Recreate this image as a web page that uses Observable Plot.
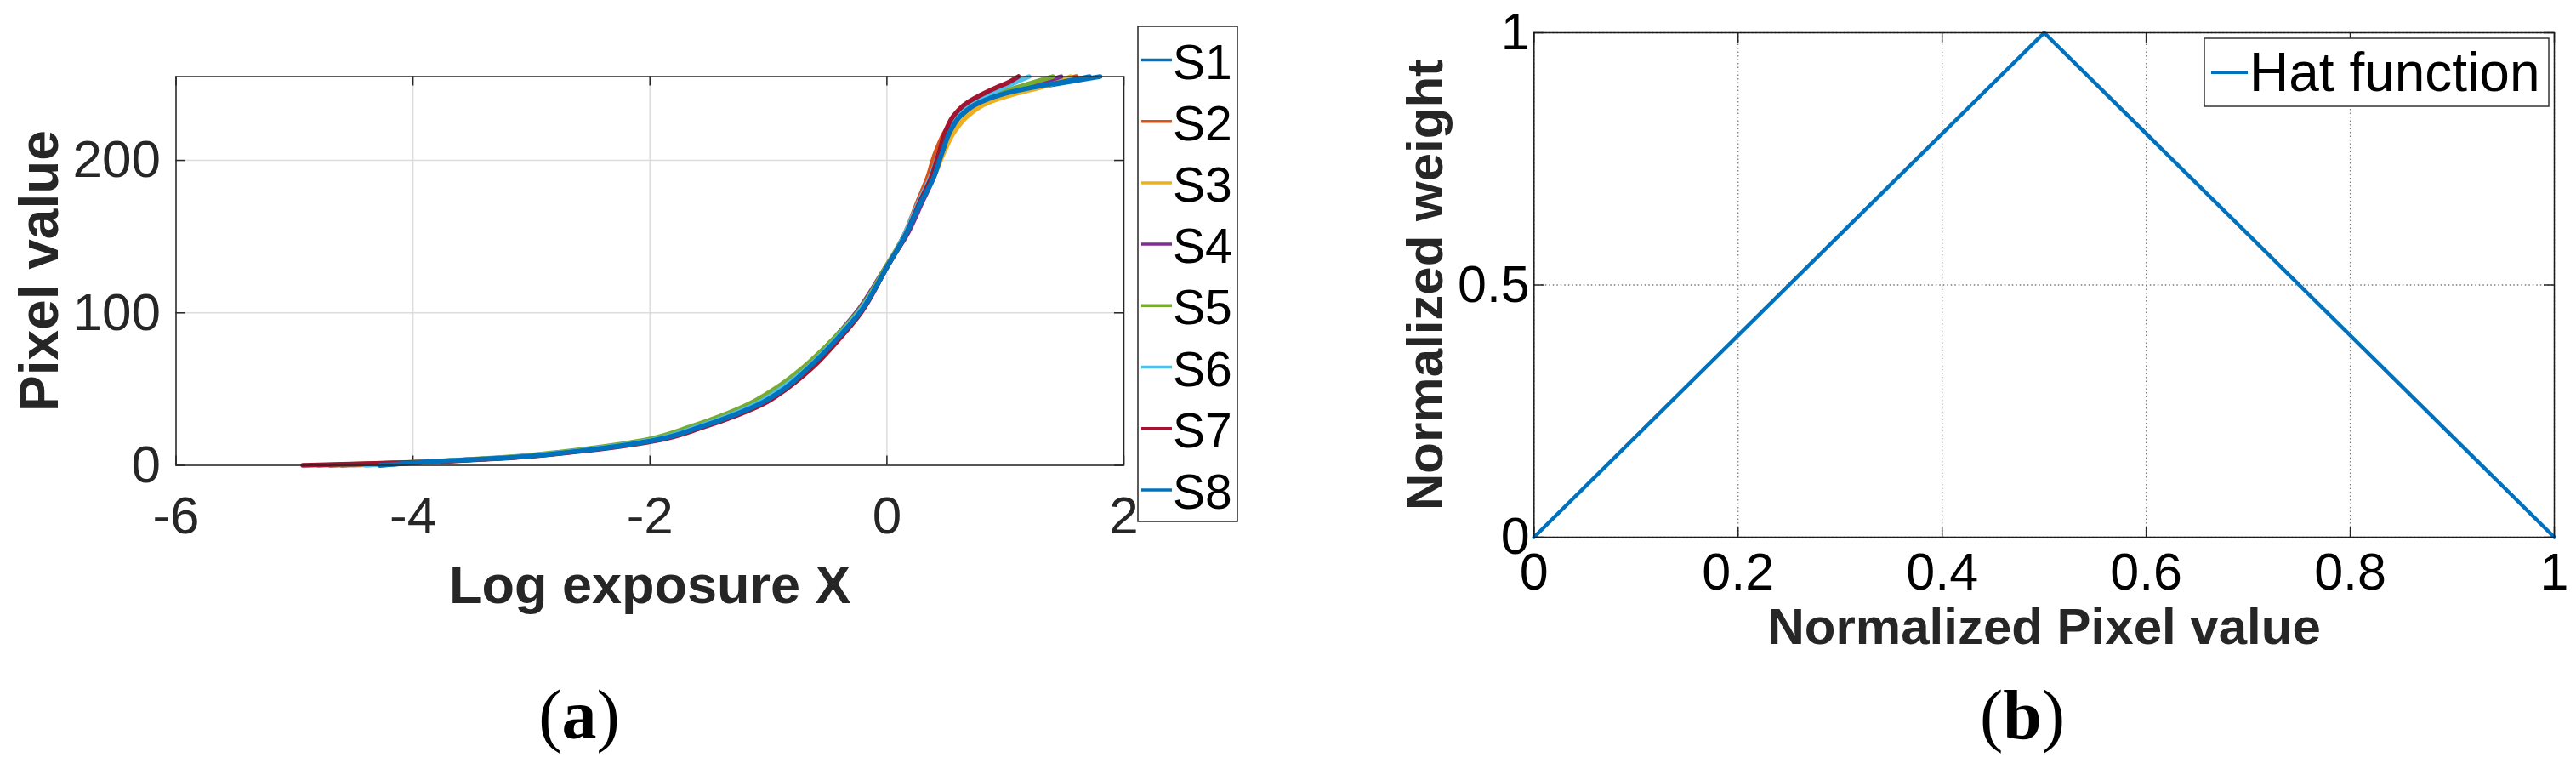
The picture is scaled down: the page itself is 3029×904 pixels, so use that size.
<!DOCTYPE html>
<html><head><meta charset="utf-8">
<script src="https://cdn.jsdelivr.net/npm/d3@7"></script>
<script src="https://cdn.jsdelivr.net/npm/@observablehq/plot@0.6"></script>
<style>
html,body{margin:0;padding:0;background:#fff;}
#fig{position:relative;width:3029px;height:904px;overflow:hidden;background:#fff;}
#fig > svg{position:absolute;}
</style></head><body><div id="fig"></div>
<script>
// ---------- data: panel (a) camera response curves ----------
const seriesNames = ["S1","S2","S3","S4","S5","S6","S7","S8"];
const seriesColors = ["#0072BD","#D95319","#EDB120","#7E2F8E","#77AC30","#4DBEEE","#A2142F","#0072BD"];
const pixelLevels = [0, 2, 5, 9, 16, 25, 33, 40, 50, 64, 83, 100, 130, 150, 173, 188, 205, 220, 229, 238, 244, 248, 251, 255];
const logExpS1 = [-4.28,-3.95,-3.20,-2.65,-2.00,-1.59,-1.30,-1.09,-0.88,-0.66,-0.42,-0.23,0.00,0.15,0.29,0.38,0.455,0.53,0.61,0.77,1.01,1.27,1.49,1.80];
const logExpS2 = [-4.60,-3.96,-3.21,-2.66,-2.01,-1.60,-1.31,-1.10,-0.89,-0.67,-0.43,-0.24,0.00,0.14,0.26,0.34,0.41,0.50,0.59,0.78,1.02,1.24,1.40,1.60];
const logExpS3 = [-4.50,-3.96,-3.20,-2.65,-2.00,-1.60,-1.30,-1.09,-0.88,-0.67,-0.43,-0.24,0.00,0.14,0.28,0.39,0.48,0.58,0.68,0.86,1.10,1.30,1.43,1.55];
const logExpS4 = [-4.70,-3.99,-3.23,-2.68,-2.03,-1.62,-1.33,-1.12,-0.91,-0.69,-0.45,-0.26,-0.01,0.16,0.30,0.39,0.465,0.54,0.62,0.78,0.98,1.15,1.30,1.47];
const logExpS5 = [-4.80,-4.03,-3.28,-2.73,-2.08,-1.67,-1.38,-1.17,-0.95,-0.71,-0.45,-0.25,-0.01,0.14,0.28,0.37,0.445,0.53,0.60,0.75,0.94,1.10,1.23,1.40];
const logExpS6 = [-4.40,-3.97,-3.22,-2.67,-2.02,-1.61,-1.32,-1.11,-0.90,-0.67,-0.43,-0.24,0.00,0.14,0.27,0.36,0.44,0.52,0.59,0.73,0.88,0.99,1.08,1.20];
const logExpS7 = [-4.93,-3.98,-3.16,-2.61,-1.96,-1.55,-1.26,-1.05,-0.85,-0.63,-0.40,-0.22,0.00,0.15,0.28,0.37,0.44,0.50,0.56,0.68,0.82,0.93,1.02,1.11];
const logExpS8 = [-4.28,-3.94,-3.19,-2.64,-1.99,-1.58,-1.29,-1.08,-0.87,-0.66,-0.42,-0.23,0.00,0.15,0.29,0.39,0.465,0.54,0.62,0.78,1.00,1.24,1.45,1.71];
const xTicksA = [-6, -4, -2, 0, 2];
const yTicksA = [0, 100, 200];

// ---------- data: panel (b) hat weighting function ----------
const hatPixel = [0, 0.5, 1];
const hatWeight = [0, 1, 0];
const xTicksB = [0, 0.2, 0.4, 0.6, 0.8, 1];
const yTicksB = [0, 0.5, 1];

const logExpAll = [logExpS1, logExpS2, logExpS3, logExpS4, logExpS5, logExpS6, logExpS7, logExpS8];
const rowsA = [];
seriesNames.forEach((s, i) => pixelLevels.forEach((p, j) => rowsA.push({series: s, x: logExpAll[i][j], y: p})));
const rowsB = hatPixel.map((p, i) => ({x: p, y: hatWeight[i]}));

const sans = '"Liberation Sans", Arial, Helvetica, sans-serif';
const fig = document.getElementById("fig");
const fmt = d => String(d);

// ---------- panel (a) ----------
const A = {w: 1340, h: 760, l: 206.5, r: 1321, t: 89.5, b: 546.5};
const aW = A.r - A.l, aH = A.b - A.t;
const chartA = Plot.plot({
  width: A.w, height: A.h,
  marginLeft: A.l, marginRight: A.w - A.r, marginTop: A.t, marginBottom: A.h - A.b,
  style: {fontFamily: sans, color: "#262626", background: "transparent", overflow: "visible"},
  x: {domain: [-6, 2]},
  y: {domain: [0, 255]},
  color: {domain: seriesNames, range: seriesColors},
  marks: [
    Plot.gridX(xTicksA, {stroke: "#dcdcdc", strokeOpacity: 1, strokeWidth: 1.5}),
    Plot.gridY(yTicksA, {stroke: "#dcdcdc", strokeOpacity: 1, strokeWidth: 1.5}),
    Plot.tickX(xTicksA, {x: d => d, insetTop: aH - 11, stroke: "#262626", strokeWidth: 1.5}),
    Plot.tickX(xTicksA, {x: d => d, insetBottom: aH - 11, stroke: "#262626", strokeWidth: 1.5}),
    Plot.tickY(yTicksA, {y: d => d, insetRight: aW - 11, stroke: "#262626", strokeWidth: 1.5}),
    Plot.tickY(yTicksA, {y: d => d, insetLeft: aW - 11, stroke: "#262626", strokeWidth: 1.5}),
    Plot.line(rowsA, {x: "x", y: "y", z: "series", stroke: "series", strokeWidth: 5.5, curve: "monotone-y"}),
    Plot.frame({stroke: "#262626", strokeWidth: 1.5}),
    Plot.axisX(xTicksA, {tickSize: 0, tickPadding: 35.5, fontSize: 62, tickFormat: fmt, label: null}),
    Plot.axisY(yTicksA, {tickSize: 0, tickPadding: 18, fontSize: 62, tickFormat: fmt, label: null}),
    Plot.text(["Pixel value"], {text: d => d, frameAnchor: "left", textAnchor: "middle", rotate: -90, dx: -139.5, lineAnchor: "bottom", fontSize: 64, fontWeight: "bold", fill: "#262626"}),
    Plot.text(["Log exposure X"], {text: d => d, frameAnchor: "bottom", lineAnchor: "bottom", dy: 161.5, fontSize: 63, fontWeight: "bold", fill: "#262626"})
  ]
});
chartA.style.left = "0px"; chartA.style.top = "0px";
fig.appendChild(chartA);

// ---------- panel (b) ----------
const Bx0 = 1500;
const B = {w: 1529, h: 760, l: 1803.3 - Bx0, r: 3003 - Bx0, t: 38, b: 631};
const bW = B.r - B.l, bH = B.b - B.t;
const gridB = {stroke: "#7a7a7a", strokeOpacity: 1, strokeWidth: 1.3, strokeDasharray: "1.5,3"};
const chartB = Plot.plot({
  width: B.w, height: B.h,
  marginLeft: B.l, marginRight: B.w - B.r, marginTop: B.t, marginBottom: B.h - B.b,
  style: {fontFamily: sans, color: "#000", background: "transparent", overflow: "visible"},
  x: {domain: [0, 1]},
  y: {domain: [0, 1]},
  marks: [
    Plot.gridX(xTicksB, gridB),
    Plot.gridY(yTicksB, gridB),
    Plot.tickX(xTicksB, {x: d => d, insetTop: bH - 12, stroke: "#262626", strokeWidth: 1.5}),
    Plot.tickX(xTicksB, {x: d => d, insetBottom: bH - 12, stroke: "#262626", strokeWidth: 1.5}),
    Plot.tickY(yTicksB, {y: d => d, insetRight: bW - 12, stroke: "#262626", strokeWidth: 1.5}),
    Plot.tickY(yTicksB, {y: d => d, insetLeft: bW - 12, stroke: "#262626", strokeWidth: 1.5}),
    Plot.line(rowsB, {x: "x", y: "y", stroke: "#0072BD", strokeWidth: 4.5}),
    Plot.frame({stroke: "#1a1a1a", strokeWidth: 1.5}),
    Plot.axisX(xTicksB, {tickSize: 0, tickPadding: 18, fontSize: 61, tickFormat: fmt, label: null}),
    Plot.axisY(yTicksB, {tickSize: 0, tickPadding: 5, fontSize: 61, tickFormat: fmt, label: null}),
    Plot.text(["Normalized weight"], {text: d => d, frameAnchor: "left", textAnchor: "middle", rotate: -90, dx: -108.3, lineAnchor: "bottom", fontSize: 60, fontWeight: "bold", fill: "#262626"}),
    Plot.text(["Normalized Pixel value"], {text: d => d, frameAnchor: "bottom", lineAnchor: "bottom", dy: 125, fontSize: 60, fontWeight: "bold", fill: "#262626"})
  ]
});
chartB.style.left = Bx0 + "px"; chartB.style.top = "0px";
fig.appendChild(chartB);

// ---------- legends and captions (overlay) ----------
const ov = d3.select(fig).append("svg")
  .attr("width", 3029).attr("height", 904)
  .style("left", "0px").style("top", "0px").style("pointer-events", "none");

// legend (a)
ov.append("rect").attr("x", 1338).attr("y", 31).attr("width", 117).attr("height", 582)
  .attr("fill", "#fff").attr("stroke", "#262626").attr("stroke-width", 1.5);
seriesNames.forEach((s, i) => {
  const cy = 70.5 + i * 72.2;
  ov.append("line").attr("x1", 1342).attr("x2", 1378).attr("y1", cy).attr("y2", cy)
    .attr("stroke", seriesColors[i]).attr("stroke-width", 3.5);
  ov.append("text").attr("x", 1379).attr("y", cy + 22).text(s)
    .attr("font-family", sans).attr("font-size", 57).attr("fill", "#000");
});

// legend (b)
ov.append("rect").attr("x", 2592).attr("y", 45).attr("width", 405).attr("height", 80)
  .attr("fill", "#fff").attr("stroke", "#333").attr("stroke-width", 1.5);
ov.append("line").attr("x1", 2600).attr("x2", 2643).attr("y1", 85).attr("y2", 85)
  .attr("stroke", "#0072BD").attr("stroke-width", 4);
ov.append("text").attr("x", 2645).attr("y", 107).text("Hat function")
  .attr("font-family", sans).attr("font-size", 64).attr("fill", "#000");

// captions
function caption(x, letter) {
  const t = ov.append("text").attr("x", x).attr("y", 868).attr("text-anchor", "middle")
    .attr("font-family", '"Liberation Serif", "Times New Roman", serif').attr("font-size", 82).attr("fill", "#000");
  t.append("tspan").text("(");
  t.append("tspan").attr("font-weight", "bold").text(letter);
  t.append("tspan").text(")");
}
caption(681, "a");
caption(2378, "b");
</script></body></html>
